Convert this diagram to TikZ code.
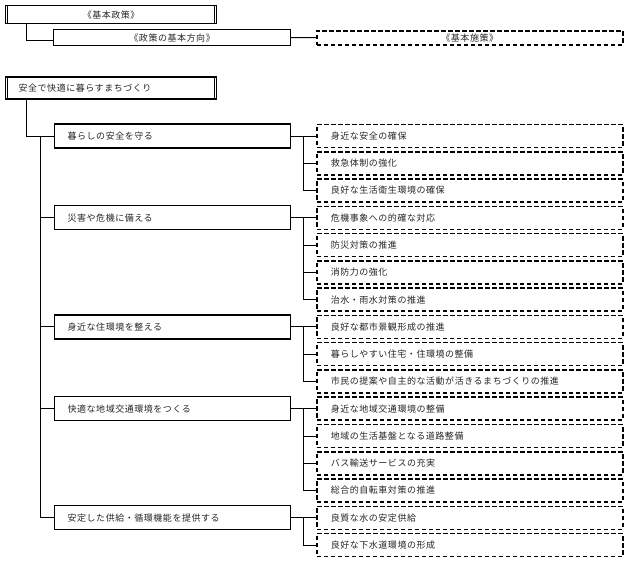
\documentclass[tikz,border=0pt]{standalone}
\usepackage{fontspec}
\setmainfont{Noto Sans CJK JP}[LetterSpace=6]
\begin{document}
\begin{tikzpicture}[x=1pt,y=-1pt,
  every node/.style={font=\fontsize{9}{11}\selectfont, inner sep=0pt, text=black!85},
  hbox/.style={draw, line width=1.2pt, anchor=north west, align=center},
  titlebox/.style={draw, line width=1.2pt, anchor=west, text width=185pt, inner xsep=13pt, align=left, minimum height=22pt},
  catbox/.style={draw, line width=1.2pt, anchor=west, text width=210pt, inner xsep=13pt, align=left, minimum height=24pt},
  kbox/.style={draw, line width=1.5pt, dash pattern=on 4.5pt off 2.5pt, anchor=west, text width=278pt, inner xsep=14pt, align=left, minimum height=23pt},
  link/.style={line width=1pt}
]
\useasboundingbox (0,0) rectangle (629,565);

% headers
\node[hbox, minimum width=211pt, minimum height=18pt] (h1) at (5,5) {《基本政策》};
\node[hbox, minimum width=237pt, minimum height=16pt] (h2) at (53,29) {《政策の基本方向》};
\node[hbox, line width=1.5pt, dash pattern=on 4.5pt off 2.5pt, minimum width=306pt, minimum height=14pt] (h3) at (316,30) {《基本施策》};
\draw[line width=1pt] ([xshift=2.5pt]h1.north west) -- ([xshift=2.5pt]h1.south west);
\draw[line width=1pt] ([xshift=-2.5pt]h1.north east) -- ([xshift=-2.5pt]h1.south east);
\draw[link] ([xshift=21pt]h1.south west) |- ([yshift=-3pt]h2.west);
\draw[link] (h2.east) -- (h3.west);

% title
\node[titlebox] (t) at (5,88) {安全で快適に暮らすまちづくり};
\draw[line width=1pt] ([xshift=2.5pt]t.north west) -- ([xshift=2.5pt]t.south west);
\draw[line width=1pt] ([xshift=-2.5pt]t.north east) -- ([xshift=-2.5pt]t.south east);

% categories
\node[catbox] (c1) at (54,136.0) {暮らしの安全を守る};
\node[catbox] (c2) at (54,217.8) {災害や危機に備える};
\node[catbox] (c3) at (54,326.9) {身近な住環境を整える};
\node[catbox] (c4) at (54,408.7) {快適な地域交通環境をつくる};
\node[catbox] (c5) at (54,517.8) {安定した供給・循環機能を提供する};

% measures
\node[kbox] (k1)  at (316,136.0) {身近な安全の確保};
\node[kbox] (k2)  at (316,163.3) {救急体制の強化};
\node[kbox] (k3)  at (316,190.5) {良好な生活衛生環境の確保};
\node[kbox] (k4)  at (316,217.8) {危機事象への的確な対応};
\node[kbox] (k5)  at (316,245.1) {防災対策の推進};
\node[kbox] (k6)  at (316,272.4) {消防力の強化};
\node[kbox] (k7)  at (316,299.6) {治水・雨水対策の推進};
\node[kbox] (k8)  at (316,326.9) {良好な都市景観形成の推進};
\node[kbox] (k9)  at (316,354.2) {暮らしやすい住宅・住環境の整備};
\node[kbox] (k10) at (316,381.4) {市民の提案や自主的な活動が活きるまちづくりの推進};
\node[kbox] (k11) at (316,408.7) {身近な地域交通環境の整備};
\node[kbox] (k12) at (316,436.0) {地域の生活基盤となる道路整備};
\node[kbox] (k13) at (316,463.3) {バス輸送サービスの充実};
\node[kbox] (k14) at (316,490.5) {総合的自転車対策の推進};
\node[kbox] (k15) at (316,517.8) {良質な水の安定供給};
\node[kbox] (k16) at (316,545.1) {良好な下水道環境の形成};

% left connectors
\coordinate (ls) at (40,0);
\coordinate (rs) at (303,0);
\draw[link] ([xshift=21pt]t.south west) |- (c1.west);
\draw[link] (c1.west -| ls) -- (c5.west -| ls);
\foreach \c in {c2,c3,c4,c5} \draw[link] (\c.west -| ls) -- (\c.west);

% right connectors
\draw[link] (c1.east) -- (k1.west);
\foreach \k in {k2,k3} \draw[link] (c1.east -| rs) |- (\k.west);
\draw[link] (c2.east) -- (k4.west);
\foreach \k in {k5,k6,k7} \draw[link] (c2.east -| rs) |- (\k.west);
\draw[link] (c3.east) -- (k8.west);
\foreach \k in {k9,k10} \draw[link] (c3.east -| rs) |- (\k.west);
\draw[link] (c4.east) -- (k11.west);
\foreach \k in {k12,k13,k14} \draw[link] (c4.east -| rs) |- (\k.west);
\draw[link] (c5.east) -- (k15.west);
\draw[link] (c5.east -| rs) |- (k16.west);
\end{tikzpicture}
\end{document}
